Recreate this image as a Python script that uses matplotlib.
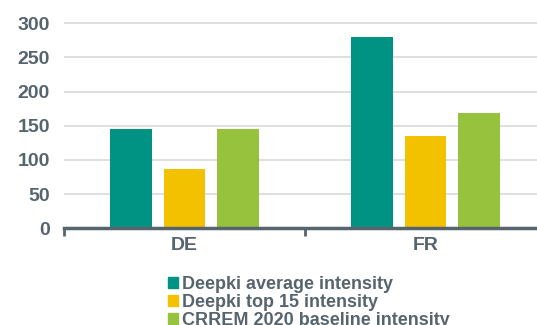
import numpy as np
import matplotlib.pyplot as plt
from matplotlib.patches import Patch

plt.rcParams['font.family'] = ['Liberation Sans', 'DejaVu Sans']
plt.rcParams['font.weight'] = 'bold'

countries = ['DE', 'FR']
series_names = ['Deepki average intensity', 'Deepki top 15 intensity',
                'CRREM 2020 baseline intensity']
deepki_avg = [146, 280]
deepki_top15 = [87, 135]
crrem_baseline = [145, 168]

colors = ['#009384', '#F2C200', '#97C23D']
text_col = '#56646E'

fig = plt.figure(figsize=(5.37, 3.25), dpi=100)
ax = fig.add_axes([64 / 537, 1 - 228.3 / 325, 482 / 537, 205 / 325 * 320 / 300])

x = np.arange(len(countries))
w = 0.174
off = 0.222
for i, vals in enumerate([deepki_avg, deepki_top15, crrem_baseline]):
    ax.bar(x + (i - 1) * off, vals, width=w, color=colors[i], zorder=3)

ax.set_xlim(-0.5, 1.5)
ax.set_ylim(0, 320)
ax.set_yticks(range(0, 301, 50))
ax.yaxis.grid(True, color='#D9D9D9', linewidth=1.2, zorder=0)
ax.tick_params(axis='y', length=0, pad=10, labelsize=14, labelcolor=text_col)

ax.set_xticks(x)
ax.set_xticklabels(countries, fontsize=14, fontweight='bold', color=text_col)
ax.tick_params(axis='x', length=0, pad=6)
# category separators on the x axis
ax.set_xticks([-0.5, 0.5, 1.5], minor=True)
ax.tick_params(axis='x', which='minor', length=6, width=2, color=text_col)

for s in ['top', 'right', 'left']:
    ax.spines[s].set_visible(False)
ax.spines['bottom'].set_color(text_col)
ax.spines['bottom'].set_linewidth(2.5)
ax.spines['bottom'].set_zorder(4)

handles = [Patch(color=c) for c in colors]
leg = fig.legend(handles, series_names, loc='upper left',
                 bbox_to_anchor=(159 / 537, 1 - 267 / 325), frameon=False,
                 handlelength=0.55, handleheight=0.55, handletextpad=0.25,
                 labelspacing=0.05, borderpad=0,
                 prop={'size': 13, 'weight': 'bold'})
for t in leg.get_texts():
    t.set_color(text_col)

fig.savefig('out.png', dpi=100)
